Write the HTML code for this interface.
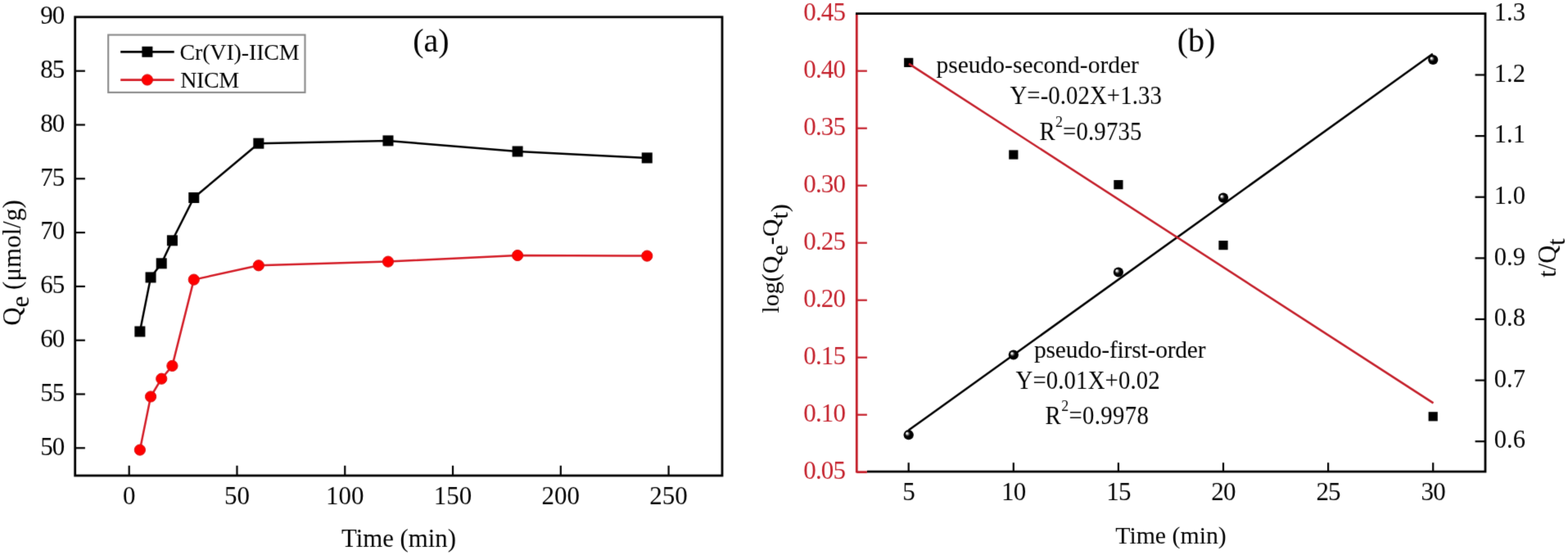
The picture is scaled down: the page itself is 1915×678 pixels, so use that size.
<!DOCTYPE html>
<html><head><meta charset="utf-8"><title>Adsorption kinetics</title>
<style>
html,body{margin:0;padding:0;background:#fff;width:1915px;height:678px;overflow:hidden}
svg{display:block}
text{font-family:"Liberation Serif", "Times New Roman", serif}
</style></head><body>
<svg fill="#000" width="1915" height="678" viewBox="0 0 1915 678">
<defs>
<filter id="soft" filterUnits="userSpaceOnUse" x="0" y="0" width="1915" height="678" color-interpolation-filters="sRGB"><feConvolveMatrix order="3" kernelMatrix="0.0114 0.084 0.0114 0.084 0.618 0.084 0.0114 0.084 0.0114" divisor="1" edgeMode="duplicate"/></filter>
<radialGradient id="ball" cx="0.5" cy="0.5" r="0.5" fx="0.3" fy="0.32">
<stop offset="0" stop-color="#fff"/>
<stop offset="0.14" stop-color="#f4f4f4"/>
<stop offset="0.3" stop-color="#777"/>
<stop offset="0.46" stop-color="#111"/>
<stop offset="0.6" stop-color="#000"/>
<stop offset="1" stop-color="#000"/>
</radialGradient>
</defs>
<rect width="1915" height="678" fill="#fff"/>
<g filter="url(#soft)">
<rect width="1915" height="678" fill="#fff"/>
<rect x="91.7" y="20.8" width="790.3" height="560.2" fill="none" stroke="#000" stroke-width="2.8"/>
<line x1="91.7" y1="547.30" x2="103.90" y2="547.30" stroke="#000" stroke-width="2.2"/>
<text transform="translate(78.2,555.50) scale(1.0,1.0)" text-anchor="end" font-size="31" letter-spacing="-1">50</text>
<line x1="91.7" y1="481.50" x2="103.90" y2="481.50" stroke="#000" stroke-width="2.2"/>
<text transform="translate(78.2,489.70) scale(1.0,1.0)" text-anchor="end" font-size="31" letter-spacing="-1">55</text>
<line x1="91.7" y1="415.70" x2="103.90" y2="415.70" stroke="#000" stroke-width="2.2"/>
<text transform="translate(78.2,423.90) scale(1.0,1.0)" text-anchor="end" font-size="31" letter-spacing="-1">60</text>
<line x1="91.7" y1="349.90" x2="103.90" y2="349.90" stroke="#000" stroke-width="2.2"/>
<text transform="translate(78.2,358.10) scale(1.0,1.0)" text-anchor="end" font-size="31" letter-spacing="-1">65</text>
<line x1="91.7" y1="284.10" x2="103.90" y2="284.10" stroke="#000" stroke-width="2.2"/>
<text transform="translate(78.2,292.30) scale(1.0,1.0)" text-anchor="end" font-size="31" letter-spacing="-1">70</text>
<line x1="91.7" y1="218.30" x2="103.90" y2="218.30" stroke="#000" stroke-width="2.2"/>
<text transform="translate(78.2,226.50) scale(1.0,1.0)" text-anchor="end" font-size="31" letter-spacing="-1">75</text>
<line x1="91.7" y1="152.50" x2="103.90" y2="152.50" stroke="#000" stroke-width="2.2"/>
<text transform="translate(78.2,160.70) scale(1.0,1.0)" text-anchor="end" font-size="31" letter-spacing="-1">80</text>
<line x1="91.7" y1="86.70" x2="103.90" y2="86.70" stroke="#000" stroke-width="2.2"/>
<text transform="translate(78.2,94.90) scale(1.0,1.0)" text-anchor="end" font-size="31" letter-spacing="-1">85</text>
<text transform="translate(78.2,29.10) scale(1.0,1.0)" text-anchor="end" font-size="31" letter-spacing="-1">90</text>
<line x1="157.70" y1="581.0" x2="157.70" y2="568.80" stroke="#000" stroke-width="2.2"/>
<text transform="translate(157.70,616.3) scale(1.0,1.0)" text-anchor="middle" font-size="31">0</text>
<line x1="289.48" y1="581.0" x2="289.48" y2="568.80" stroke="#000" stroke-width="2.2"/>
<text transform="translate(289.48,616.3) scale(1.0,1.0)" text-anchor="middle" font-size="31">50</text>
<line x1="421.26" y1="581.0" x2="421.26" y2="568.80" stroke="#000" stroke-width="2.2"/>
<text transform="translate(421.26,616.3) scale(1.0,1.0)" text-anchor="middle" font-size="31">100</text>
<line x1="553.04" y1="581.0" x2="553.04" y2="568.80" stroke="#000" stroke-width="2.2"/>
<text transform="translate(553.04,616.3) scale(1.0,1.0)" text-anchor="middle" font-size="31">150</text>
<line x1="684.82" y1="581.0" x2="684.82" y2="568.80" stroke="#000" stroke-width="2.2"/>
<text transform="translate(684.82,616.3) scale(1.0,1.0)" text-anchor="middle" font-size="31">200</text>
<line x1="816.60" y1="581.0" x2="816.60" y2="568.80" stroke="#000" stroke-width="2.2"/>
<text transform="translate(816.60,616.3) scale(1.0,1.0)" text-anchor="middle" font-size="31">250</text>
<text x="487" y="667.5" text-anchor="middle" font-size="30.8">Time (min)</text>
<text transform="translate(25.2,397.8) rotate(-90)" font-size="31">Q<tspan dy="10">e</tspan><tspan dy="-10"> (μmol/g)</tspan></text>
<polyline points="170.88,405.00 184.06,338.90 197.23,321.80 210.41,293.80 236.77,241.50 315.84,175.20 473.97,171.90 632.11,185.00 790.24,192.90" fill="none" stroke="#000" stroke-width="2.5" stroke-linejoin="round"/>
<polyline points="170.88,549.60 184.06,484.50 197.23,462.70 210.41,446.90 236.77,341.60 315.84,324.30 473.97,319.60 632.11,312.00 790.24,312.60" fill="none" stroke="#d41e28" stroke-width="2.5" stroke-linejoin="round"/>
<rect x="164.38" y="398.50" width="13" height="13" fill="#000"/>
<rect x="177.56" y="332.40" width="13" height="13" fill="#000"/>
<rect x="190.73" y="315.30" width="13" height="13" fill="#000"/>
<rect x="203.91" y="287.30" width="13" height="13" fill="#000"/>
<rect x="230.27" y="235.00" width="13" height="13" fill="#000"/>
<rect x="309.34" y="168.70" width="13" height="13" fill="#000"/>
<rect x="467.47" y="165.40" width="13" height="13" fill="#000"/>
<rect x="625.61" y="178.50" width="13" height="13" fill="#000"/>
<rect x="783.74" y="186.40" width="13" height="13" fill="#000"/>
<circle cx="170.88" cy="549.60" r="6.6" fill="#f00" stroke="#d81414" stroke-width="1"/>
<circle cx="184.06" cy="484.50" r="6.6" fill="#f00" stroke="#d81414" stroke-width="1"/>
<circle cx="197.23" cy="462.70" r="6.6" fill="#f00" stroke="#d81414" stroke-width="1"/>
<circle cx="210.41" cy="446.90" r="6.6" fill="#f00" stroke="#d81414" stroke-width="1"/>
<circle cx="236.77" cy="341.60" r="6.6" fill="#f00" stroke="#d81414" stroke-width="1"/>
<circle cx="315.84" cy="324.30" r="6.6" fill="#f00" stroke="#d81414" stroke-width="1"/>
<circle cx="473.97" cy="319.60" r="6.6" fill="#f00" stroke="#d81414" stroke-width="1"/>
<circle cx="632.11" cy="312.00" r="6.6" fill="#f00" stroke="#d81414" stroke-width="1"/>
<circle cx="790.24" cy="312.60" r="6.6" fill="#f00" stroke="#d81414" stroke-width="1"/>
<rect x="132.2" y="42.6" width="240.3" height="70.3" fill="#fff" stroke="#8a8a8a" stroke-width="2.1"/>
<line x1="147.2" y1="63.4" x2="212.7" y2="63.4" stroke="#000" stroke-width="2.6"/>
<rect x="173.4" y="56.8" width="13" height="13" fill="#000"/>
<line x1="147.2" y1="97.6" x2="212.7" y2="97.6" stroke="#d41e28" stroke-width="2.6"/>
<circle cx="179.9" cy="97.5" r="6.6" fill="#f00" stroke="#d81414" stroke-width="1"/>
<text x="219.5" y="72.6" font-size="28" letter-spacing="-0.15">Cr(VI)-IICM</text>
<text x="220.2" y="106.6" font-size="28" letter-spacing="-0.4">NICM</text>
<text x="504.2" y="62.8" font-size="40">(a)</text>
<line x1="1046.3" y1="16.7" x2="1046.3" y2="577.5" stroke="#c41f2a" stroke-width="2.8"/>
<path d="M1045.0,16.7 H1814.0 V576.2 H1058.8999999999999" fill="none" stroke="#000" stroke-width="2.8"/>
<line x1="1046.3" y1="576.70" x2="1058.90" y2="576.70" stroke="#c41f2a" stroke-width="2.8"/>
<text transform="translate(1032,585.10) scale(1.0,1.0)" text-anchor="end" font-size="31" letter-spacing="-0.9" fill="#c41f2a">0.05</text>
<line x1="1046.3" y1="506.70" x2="1058.90" y2="506.70" stroke="#c41f2a" stroke-width="2.2"/>
<text transform="translate(1032,515.10) scale(1.0,1.0)" text-anchor="end" font-size="31" letter-spacing="-0.9" fill="#c41f2a">0.10</text>
<line x1="1046.3" y1="436.70" x2="1058.90" y2="436.70" stroke="#c41f2a" stroke-width="2.2"/>
<text transform="translate(1032,445.10) scale(1.0,1.0)" text-anchor="end" font-size="31" letter-spacing="-0.9" fill="#c41f2a">0.15</text>
<line x1="1046.3" y1="366.70" x2="1058.90" y2="366.70" stroke="#c41f2a" stroke-width="2.2"/>
<text transform="translate(1032,375.10) scale(1.0,1.0)" text-anchor="end" font-size="31" letter-spacing="-0.9" fill="#c41f2a">0.20</text>
<line x1="1046.3" y1="296.70" x2="1058.90" y2="296.70" stroke="#c41f2a" stroke-width="2.2"/>
<text transform="translate(1032,305.10) scale(1.0,1.0)" text-anchor="end" font-size="31" letter-spacing="-0.9" fill="#c41f2a">0.25</text>
<line x1="1046.3" y1="226.70" x2="1058.90" y2="226.70" stroke="#c41f2a" stroke-width="2.2"/>
<text transform="translate(1032,235.10) scale(1.0,1.0)" text-anchor="end" font-size="31" letter-spacing="-0.9" fill="#c41f2a">0.30</text>
<line x1="1046.3" y1="156.70" x2="1058.90" y2="156.70" stroke="#c41f2a" stroke-width="2.2"/>
<text transform="translate(1032,165.10) scale(1.0,1.0)" text-anchor="end" font-size="31" letter-spacing="-0.9" fill="#c41f2a">0.35</text>
<line x1="1046.3" y1="86.70" x2="1058.90" y2="86.70" stroke="#c41f2a" stroke-width="2.2"/>
<text transform="translate(1032,95.10) scale(1.0,1.0)" text-anchor="end" font-size="31" letter-spacing="-0.9" fill="#c41f2a">0.40</text>
<text transform="translate(1032,25.10) scale(1.0,1.0)" text-anchor="end" font-size="31" letter-spacing="-0.9" fill="#c41f2a">0.45</text>
<line x1="1814.0" y1="539.22" x2="1801.60" y2="539.22" stroke="#000" stroke-width="2.2"/>
<text transform="translate(1824.8,547.42) scale(1.0,1.0)" font-size="30.5">0.6</text>
<line x1="1814.0" y1="464.60" x2="1801.60" y2="464.60" stroke="#000" stroke-width="2.2"/>
<text transform="translate(1824.8,472.80) scale(1.0,1.0)" font-size="30.5">0.7</text>
<line x1="1814.0" y1="389.98" x2="1801.60" y2="389.98" stroke="#000" stroke-width="2.2"/>
<text transform="translate(1824.8,398.18) scale(1.0,1.0)" font-size="30.5">0.8</text>
<line x1="1814.0" y1="315.36" x2="1801.60" y2="315.36" stroke="#000" stroke-width="2.2"/>
<text transform="translate(1824.8,323.56) scale(1.0,1.0)" font-size="30.5">0.9</text>
<line x1="1814.0" y1="240.74" x2="1801.60" y2="240.74" stroke="#000" stroke-width="2.2"/>
<text transform="translate(1824.8,248.94) scale(1.0,1.0)" font-size="30.5">1.0</text>
<line x1="1814.0" y1="166.12" x2="1801.60" y2="166.12" stroke="#000" stroke-width="2.2"/>
<text transform="translate(1824.8,174.32) scale(1.0,1.0)" font-size="30.5">1.1</text>
<line x1="1814.0" y1="91.50" x2="1801.60" y2="91.50" stroke="#000" stroke-width="2.2"/>
<text transform="translate(1824.8,99.70) scale(1.0,1.0)" font-size="30.5">1.2</text>
<text transform="translate(1824.8,25.08) scale(1.0,1.0)" font-size="30.5">1.3</text>
<line x1="1109.70" y1="576.2" x2="1109.70" y2="565.20" stroke="#000" stroke-width="2.2"/>
<text transform="translate(1109.70,611.3) scale(1.0,1.0)" text-anchor="middle" font-size="31" letter-spacing="-0.8">5</text>
<line x1="1237.80" y1="576.2" x2="1237.80" y2="565.20" stroke="#000" stroke-width="2.2"/>
<text transform="translate(1237.80,611.3) scale(1.0,1.0)" text-anchor="middle" font-size="31" letter-spacing="-0.8">10</text>
<line x1="1365.90" y1="576.2" x2="1365.90" y2="565.20" stroke="#000" stroke-width="2.2"/>
<text transform="translate(1365.90,611.3) scale(1.0,1.0)" text-anchor="middle" font-size="31" letter-spacing="-0.8">15</text>
<line x1="1494.00" y1="576.2" x2="1494.00" y2="565.20" stroke="#000" stroke-width="2.2"/>
<text transform="translate(1494.00,611.3) scale(1.0,1.0)" text-anchor="middle" font-size="31" letter-spacing="-0.8">20</text>
<line x1="1622.10" y1="576.2" x2="1622.10" y2="565.20" stroke="#000" stroke-width="2.2"/>
<text transform="translate(1622.10,611.3) scale(1.0,1.0)" text-anchor="middle" font-size="31" letter-spacing="-0.8">25</text>
<line x1="1750.20" y1="576.2" x2="1750.20" y2="565.20" stroke="#000" stroke-width="2.2"/>
<text transform="translate(1750.20,611.3) scale(1.0,1.0)" text-anchor="middle" font-size="31" letter-spacing="-0.8">30</text>
<text x="1430" y="663.8" text-anchor="middle" font-size="29.8">Time (min)</text>
<text transform="translate(951.0,382.5) rotate(-90)" font-size="30">log(Q<tspan dy="10.6">e</tspan><tspan dy="-10.6">-Q</tspan><tspan dy="10.6">t)</tspan></text>
<text transform="translate(1899.8,338.8) rotate(-90)" font-size="30.5">t/Q<tspan dy="11">t</tspan></text>
<line x1="1109.7" y1="525.6" x2="1749.8" y2="65.7" stroke="#000" stroke-width="2.5"/>
<rect x="1104.10" y="70.80" width="11.2" height="11.2" fill="#000"/>
<rect x="1232.20" y="183.40" width="11.2" height="11.2" fill="#000"/>
<rect x="1360.30" y="220.00" width="11.2" height="11.2" fill="#000"/>
<rect x="1488.40" y="294.00" width="11.2" height="11.2" fill="#000"/>
<rect x="1744.60" y="503.20" width="11.2" height="11.2" fill="#000"/>
<line x1="1110" y1="77.9" x2="1750.5" y2="492.4" stroke="#c41f2a" stroke-width="2.5"/>
<circle cx="1109.70" cy="531.20" r="6.1" fill="url(#ball)"/>
<circle cx="1237.80" cy="433.50" r="6.1" fill="url(#ball)"/>
<circle cx="1365.90" cy="332.50" r="6.1" fill="url(#ball)"/>
<circle cx="1494.00" cy="241.60" r="6.1" fill="url(#ball)"/>
<circle cx="1750.20" cy="73.00" r="6.1" fill="url(#ball)"/>
<text x="1143.5" y="89.0" font-size="29.5">pseudo-second-order</text>
<text transform="translate(1233.5,127.2) scale(0.99,1.08)" font-size="29" letter-spacing="0.12">Y=-0.02X+1.33</text>
<text transform="translate(1269.6,170.8) scale(0.99,1.08)" font-size="29" letter-spacing="0.2">R<tspan font-size="18" dy="-15">2</tspan><tspan dy="15">=0.9735</tspan></text>
<text x="1263" y="437.2" font-size="29.5" letter-spacing="-0.2">pseudo-first-order</text>
<text transform="translate(1240.5,474.6) scale(0.99,1.08)" font-size="29" letter-spacing="0.17">Y=0.01X+0.02</text>
<text transform="translate(1276.6,518.4) scale(0.99,1.08)" font-size="29" letter-spacing="0.38">R<tspan font-size="18" dy="-15">2</tspan><tspan dy="15">=0.9978</tspan></text>
<text x="1437.7" y="62.8" font-size="40">(b)</text>
</g>
</svg>
</body></html>
